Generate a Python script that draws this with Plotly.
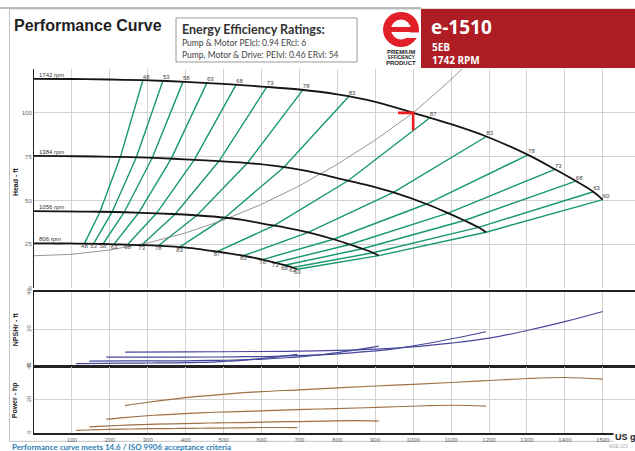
import plotly.graph_objects as go

# ---------------- data ----------------
speeds = [1742, 1384, 1056, 806]
rpm_labels = ["1742 rpm", "1384 rpm", "1056 rpm", "806 rpm"]

# Head curves (US gpm, ft)
q_1742 = [0, 100, 200, 287, 400, 500, 600, 700, 800, 900, 1000, 1100, 1193, 1303, 1374, 1429, 1475, 1500]
h_1742 = [119.4, 119.3, 119.0, 118.6, 117.7, 116.5, 115.0, 113.3, 110.5, 106.3, 100.0, 93.5, 86.5, 76.0, 67.8, 61.1, 55.0, 50.5]
q_1384 = [0, 79, 159, 228, 318, 397, 477, 556, 636, 715, 794, 874, 948, 1035, 1092, 1135, 1172, 1192]
h_1384 = [75.4, 75.3, 75.1, 74.9, 74.3, 73.5, 72.6, 71.5, 69.8, 67.1, 63.1, 59.0, 54.6, 48.0, 42.8, 38.6, 34.7, 31.9]
q_1056 = [0, 61, 121, 174, 242, 303, 364, 424, 485, 546, 606, 667, 723, 790, 833, 866, 894, 909]
h_1056 = [43.9, 43.8, 43.7, 43.6, 43.3, 42.8, 42.3, 41.6, 40.6, 39.1, 36.7, 34.4, 31.8, 27.9, 24.9, 22.5, 20.2, 18.6]
q_806 = [0, 46, 93, 133, 185, 231, 278, 324, 370, 416, 463, 509, 552, 603, 636, 661, 682, 694]
h_806 = [25.6, 25.5, 25.5, 25.4, 25.2, 24.9, 24.6, 24.3, 23.7, 22.8, 21.4, 20.0, 18.5, 16.3, 14.5, 13.1, 11.8, 10.8]

# Iso-efficiency lines (%), point on each speed curve
eff_labels = ["48", "53", "58", "63", "68", "73", "78", "83", "87", "83", "78", "73", "68", "63", "60"]
eff_q_1742 = [287, 340, 393, 456, 533, 614, 709, 830, 1044, 1193, 1303, 1374, 1429, 1475, 1500]
eff_h_1742 = [118.6, 118.3, 117.8, 117.1, 116.1, 114.8, 113.1, 109.3, 97.2, 86.5, 76.0, 67.8, 61.1, 55.0, 50.5]
eff_q_1384 = [228, 270, 312, 362, 423, 488, 563, 659, 829, 948, 1035, 1092, 1135, 1172, 1192]
eff_h_1384 = [74.9, 74.7, 74.4, 73.9, 73.3, 72.5, 71.4, 69.0, 61.4, 54.6, 48.0, 42.8, 38.6, 34.7, 31.9]
eff_q_1056 = [174, 206, 238, 276, 323, 372, 430, 503, 633, 723, 790, 833, 866, 894, 909]
eff_h_1056 = [43.6, 43.5, 43.3, 43.0, 42.7, 42.2, 41.6, 40.2, 35.7, 31.8, 27.9, 24.9, 22.5, 20.2, 18.6]
eff_q_806 = [133, 157, 182, 211, 247, 284, 328, 384, 483, 552, 603, 636, 661, 682, 694]
eff_h_806 = [25.4, 25.3, 25.2, 25.1, 24.9, 24.6, 24.2, 23.4, 20.8, 18.5, 16.3, 14.5, 13.1, 11.8, 10.8]

# System curve
sys_q = [0, 100, 200, 300, 400, 500, 600, 700, 800, 900, 1000, 1100, 1200]
sys_h = [18.5, 19.3, 21.8, 25.8, 31.5, 38.9, 47.8, 58.4, 70.7, 84.5, 100.0, 119.0, 140.0]

# Duty point marker
duty_q = [960, 1000, 1000]
duty_h = [100, 100, 90]

# NPSHr (ft)
npsh_q_1742 = [240, 400, 600, 700, 800, 900, 1000, 1100, 1200, 1300, 1400, 1500]
npsh_1742 = [7.7, 7.8, 8.0, 8.2, 8.6, 9.3, 10.5, 12.5, 15.2, 19.4, 24.2, 29.7]
npsh_q_1384 = [191, 318, 477, 556, 636, 715, 795, 874, 953, 1033, 1112, 1192]
npsh_1384 = [4.9, 4.9, 5.0, 5.2, 5.4, 5.9, 6.6, 7.9, 9.6, 12.2, 15.3, 18.7]
npsh_q_1056 = [146, 242, 364, 424, 485, 546, 606, 667, 727, 788, 849, 909]
npsh_1056 = [2.8, 2.9, 2.9, 3.0, 3.2, 3.4, 3.9, 4.6, 5.6, 7.1, 8.9, 10.9]
npsh_q_806 = [111, 185, 278, 324, 370, 416, 463, 509, 555, 602, 648, 694]
npsh_806 = [1.4, 1.6, 1.7, 1.8, 1.8, 2.0, 2.2, 2.7, 3.3, 4.2, 5.2, 6.4]

# Power (hp)
pw_q_1742 = [240, 300, 400, 500, 600, 700, 800, 900, 1000, 1100, 1200, 1300, 1400, 1500]
pw_1742 = [16.5, 18.5, 21.3, 23.3, 24.9, 26.0, 27.2, 28.3, 29.3, 30.4, 31.6, 32.8, 33.4, 32.4]
pw_q_1384 = [191, 238, 318, 397, 477, 556, 636, 715, 795, 874, 953, 1033, 1112, 1192]
pw_1384 = [8.3, 9.3, 10.7, 11.7, 12.5, 13.0, 13.6, 14.2, 14.7, 15.2, 15.8, 16.4, 16.7, 16.2]
pw_q_1056 = [146, 182, 242, 303, 364, 424, 485, 546, 606, 667, 727, 788, 849, 909]
pw_1056 = [3.7, 4.1, 4.7, 5.2, 5.5, 5.8, 6.1, 6.3, 6.5, 6.8, 7.0, 7.3, 7.4, 7.2]
pw_q_806 = [111, 139, 185, 231, 278, 324, 370, 416, 463, 509, 555, 602, 648, 694]
pw_806 = [1.6, 1.8, 2.1, 2.3, 2.5, 2.6, 2.7, 2.8, 2.9, 3.0, 3.1, 3.3, 3.3, 3.2]

x_ticks = list(range(100, 1600, 100))
x_ticktext = [str(v) for v in x_ticks]

# ---------------- layout helpers (pixel -> paper) ----------------
W, H = 635, 451
L, R = 34, 0
PT, PB = 69.0, 432.7
PW = W - L - R
PH = PB - PT


def px(x):
    return (x - L) / PW


def py(y):
    return (PB - y) / PH


GREEN = "#179a68"
BLACK = "#151515"
NPSH_C = "#47479c"
PW_C = "#9e7043"
GRID = "#d2d2d2"

fig = go.Figure()

# iso-efficiency lines
for i in range(len(eff_labels)):
    fig.add_trace(go.Scatter(
        x=[eff_q_1742[i], eff_q_1384[i], eff_q_1056[i], eff_q_806[i]],
        y=[eff_h_1742[i], eff_h_1384[i], eff_h_1056[i], eff_h_806[i]],
        mode="lines", line=dict(color=GREEN, width=1.4),
        xaxis="x", yaxis="y", hoverinfo="skip"))

# system curve
fig.add_trace(go.Scatter(x=sys_q, y=sys_h, mode="lines",
                         line=dict(color="#7a7a7a", width=0.8),
                         xaxis="x", yaxis="y", hoverinfo="skip"))

# head curves
for q, h in [(q_1742, h_1742), (q_1384, h_1384), (q_1056, h_1056), (q_806, h_806)]:
    fig.add_trace(go.Scatter(x=q, y=h, mode="lines", line=dict(color=BLACK, width=1.8, shape="spline"),
                             xaxis="x", yaxis="y", hoverinfo="skip"))

# duty point
fig.add_trace(go.Scatter(x=duty_q, y=duty_h, mode="lines", line=dict(color="#ee1c1c", width=2.6),
                         xaxis="x", yaxis="y", hoverinfo="skip"))

# efficiency labels
fig.add_trace(go.Scatter(x=eff_q_1742, y=eff_h_1742, mode="text", text=eff_labels,
                         textposition="top right", textfont=dict(size=6, color="#444"),
                         xaxis="x", yaxis="y", cliponaxis=False, hoverinfo="skip"))
fig.add_trace(go.Scatter(x=eff_q_806, y=eff_h_806, mode="text", text=eff_labels,
                         textposition="bottom center", textfont=dict(size=6, color="#444"),
                         xaxis="x", yaxis="y", cliponaxis=False, hoverinfo="skip"))

# NPSHr
for q, n in [(npsh_q_1742, npsh_1742), (npsh_q_1384, npsh_1384), (npsh_q_1056, npsh_1056), (npsh_q_806, npsh_806)]:
    fig.add_trace(go.Scatter(x=q, y=n, mode="lines", line=dict(color=NPSH_C, width=1.2, shape="spline"),
                             xaxis="x2", yaxis="y2", hoverinfo="skip"))

# Power
for q, p in [(pw_q_1742, pw_1742), (pw_q_1384, pw_1384), (pw_q_1056, pw_1056), (pw_q_806, pw_806)]:
    fig.add_trace(go.Scatter(x=q, y=p, mode="lines", line=dict(color=PW_C, width=1.2, shape="spline"),
                             xaxis="x3", yaxis="y3", hoverinfo="skip"))

xcommon = dict(range=[0, 1585], tickvals=x_ticks, showgrid=True, gridcolor=GRID, gridwidth=1,
               zeroline=False, domain=[0, 1], ticks="")
ycommon = dict(showgrid=True, gridcolor=GRID, gridwidth=1, zeroline=False, ticks="",
               showline=True, linecolor="#222", linewidth=1,
               tickfont=dict(size=6, color="#666"))

fig.update_layout(
    width=W, height=H,
    margin=dict(l=L, r=R, t=PT, b=H - PB),
    paper_bgcolor="white", plot_bgcolor="white",
    showlegend=False,
    font=dict(family="Liberation Sans"),
    xaxis=dict(**xcommon, anchor="y", showticklabels=False),
    xaxis2=dict(**xcommon, anchor="y2", matches="x", showticklabels=False,
                showline=True, mirror=True, linecolor="#222", linewidth=1.5),
    xaxis3=dict(**xcommon, anchor="y3", matches="x", showticklabels=True, ticktext=x_ticktext,
                tickfont=dict(size=6, color="#666"),
                showline=True, mirror=True, linecolor="#222", linewidth=1.5),
    yaxis=dict(**ycommon, domain=[py(288), 1], range=[0, 125],
               tickvals=[0, 25, 50, 75, 100, 125], ticktext=["0", "25", "50", "75", "100", ""]),
    yaxis2=dict(**ycommon, domain=[py(366), py(292.3)], range=[0, 40],
                tickvals=[0, 20, 40], tickangle=-90),
    yaxis3=dict(**ycommon, domain=[0, py(366.3)], range=[0, 40],
                tickvals=[0, 20, 40], tickangle=-90),
)

shapes = []
ann = []

# rpm labels
for s_lbl, h0 in zip(rpm_labels, [h_1742[0], h_1384[0], h_1056[0], h_806[0]]):
    ann.append(dict(x=8, y=h0, xref="x", yref="y", text=s_lbl, showarrow=False,
                    xanchor="left", yanchor="bottom", font=dict(size=6, color="#333"), yshift=-1))

# axis titles
for txt, yc in [("Head - ft", 182), ("NPSHr - ft", 329), ("Power - hp", 400)]:
    ann.append(dict(x=px(15), y=py(yc), xref="paper", yref="paper", text="<b>" + txt + "</b>",
                    textangle=-90, showarrow=False, xanchor="center", yanchor="middle",
                    font=dict(size=7, color="#222")))

# outer frame and top line
shapes.append(dict(type="rect", xref="paper", yref="paper", x0=px(9.5), x1=px(700), y0=py(441), y1=py(9),
                   line=dict(color="#c4c4c4", width=1), layer="below"))
shapes.append(dict(type="line", xref="paper", yref="paper", x0=px(0), x1=px(421), y0=py(8), y1=py(8),
                   line=dict(color="#a8a8a8", width=1.5)))

# title
ann.append(dict(x=px(12), y=py(26), xref="paper", yref="paper", text="<b>Performance Curve</b>",
                showarrow=False, xanchor="left", yanchor="middle",
                font=dict(size=16, color="#1e1e1e", family="Liberation Sans")))

# efficiency box
shapes.append(dict(type="rect", xref="paper", yref="paper", x0=px(176), x1=px(357), y0=py(62), y1=py(18),
                   line=dict(color="#9a9a9a", width=1), fillcolor="white"))
ann.append(dict(x=px(180), y=py(30), xref="paper", yref="paper", text="<b>Energy Efficiency Ratings:</b>",
                showarrow=False, xanchor="left", yanchor="middle",
                font=dict(size=12.5, color="#333", family="Lato")))
ann.append(dict(x=px(180), y=py(43.5), xref="paper", yref="paper", text="Pump &amp; Motor PEIcl: 0.94 ERcl: 6",
                showarrow=False, xanchor="left", yanchor="middle",
                font=dict(size=8.5, color="#444", family="Lato")))
ann.append(dict(x=px(180), y=py(55), xref="paper", yref="paper", text="Pump, Motor &amp; Drive: PEIvl: 0.46 ERvl: 54",
                showarrow=False, xanchor="left", yanchor="middle",
                font=dict(size=8.5, color="#444", family="Lato")))

# logo
RED = "#ad1d23"
shapes.append(dict(type="circle", xref="paper", yref="paper", x0=px(383), x1=px(419), y0=py(47), y1=py(12),
                   fillcolor="#e2202a", line=dict(width=0)))
shapes.append(dict(type="circle", xref="paper", yref="paper", x0=px(391), x1=px(411), y0=py(39.5), y1=py(19.5),
                   fillcolor="white", line=dict(width=0)))
shapes.append(dict(type="rect", xref="paper", yref="paper", x0=px(387), x1=px(415), y0=py(32), y1=py(27),
                   fillcolor="#e2202a", line=dict(width=0)))
shapes.append(dict(type="rect", xref="paper", yref="paper", x0=px(406), x1=px(421), y0=py(38), y1=py(32.5),
                   fillcolor="white", line=dict(width=0)))
for txt, yc, sz in [("PREMIUM", 52, 6), ("EFFICIENCY", 57.5, 4.5), ("PRODUCT", 63, 6)]:
    ann.append(dict(x=px(401), y=py(yc), xref="paper", yref="paper", text="<b>" + txt + "</b>",
                    showarrow=False, xanchor="center", yanchor="middle",
                    font=dict(size=sz, color="#222", family="Liberation Sans")))

# red header block
shapes.append(dict(type="rect", xref="paper", yref="paper", x0=px(421), x1=px(700), y0=py(68), y1=py(9),
                   fillcolor=RED, line=dict(width=0)))
ann.append(dict(x=px(429), y=py(27.5), xref="paper", yref="paper", text="<b>e-1510</b>",
                showarrow=False, xanchor="left", yanchor="middle",
                font=dict(size=19, color="white", family="Open Sans")))
ann.append(dict(x=px(430), y=py(47.5), xref="paper", yref="paper", text="<b>5EB</b>",
                showarrow=False, xanchor="left", yanchor="middle",
                font=dict(size=10, color="white", family="Open Sans")))
ann.append(dict(x=px(430), y=py(60), xref="paper", yref="paper", text="<b>1742 RPM</b>",
                showarrow=False, xanchor="left", yanchor="middle",
                font=dict(size=10, color="white", family="Open Sans")))

# unit label and footer
ann.append(dict(x=px(613), y=py(436.5), xref="paper", yref="paper", text="<b>US gpm</b>",
                showarrow=False, xanchor="left", yanchor="middle", bgcolor="white",
                font=dict(size=9, color="#222", family="Liberation Sans")))
ann.append(dict(x=px(10), y=py(447), xref="paper", yref="paper",
                text="<b>Performance curve meets 14.6 / ISO 9906 acceptance criteria</b>",
                showarrow=False, xanchor="left", yanchor="middle",
                font=dict(size=8, color="#2a7db5", family="Lato")))
ann.append(dict(x=px(630), y=py(446), xref="paper", yref="paper", text="W0E-023",
                showarrow=False, xanchor="right", yanchor="middle",
                font=dict(size=4.5, color="#aaa")))

fig.update_layout(shapes=shapes, annotations=ann)
fig.write_html("out.html",
               config={"displayModeBar": False},
               post_script="document.body.style.margin='0';document.body.style.padding='0';"
                           "document.body.style.overflow='hidden';")
